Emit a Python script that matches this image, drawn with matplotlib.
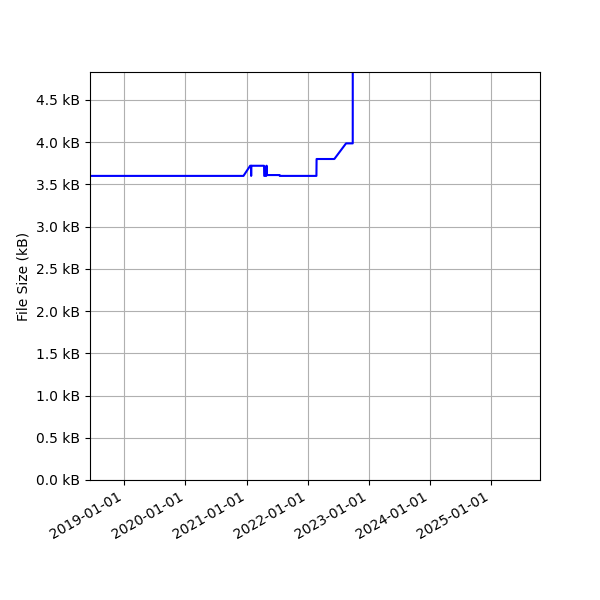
import matplotlib
matplotlib.use("Agg")
import matplotlib.pyplot as plt
import matplotlib.dates as mdates
from matplotlib.ticker import FuncFormatter, MultipleLocator
import pandas as pd

# file size history (bytes)
dates = [
    "2018-01-01", "2020-12-13", "2021-01-22", "2021-01-27", "2021-01-28",
    "2021-01-29", "2021-04-15", "2021-04-16", "2021-04-28", "2021-04-29",
    "2021-05-01", "2021-05-02", "2021-07-17", "2021-07-18", "2022-02-22",
    "2022-02-23", "2022-06-09", "2022-08-18", "2022-09-27", "2022-09-28",
]
sizes = [
    3600, 3600, 3720, 3720, 3600,
    3720, 3720, 3600, 3600, 3720,
    3720, 3610, 3610, 3600, 3600,
    3800, 3800, 3985, 3985, 9000,
]

x = pd.to_datetime(dates)

fig, ax = plt.subplots(figsize=(6, 6), dpi=100)
ax.plot(x, sizes, color="blue", linewidth=1.5)

ax.set_ylim(0, 4830)
ax.set_xlim(pd.Timestamp("2018-06-10"), pd.Timestamp("2025-10-20"))
ax.yaxis.set_major_locator(MultipleLocator(500))
ax.yaxis.set_major_formatter(FuncFormatter(lambda v, pos: f"{v / 1000:.1f} kB"))
ax.xaxis.set_major_locator(mdates.YearLocator())
ax.xaxis.set_major_formatter(mdates.DateFormatter("%Y-%m-%d"))
ax.set_ylabel("File Size (kB)")
ax.grid(True)

fig.autofmt_xdate()
fig.subplots_adjust(left=0.15, right=0.9, top=0.88, bottom=0.2)
fig.savefig("out.png", dpi=100)
